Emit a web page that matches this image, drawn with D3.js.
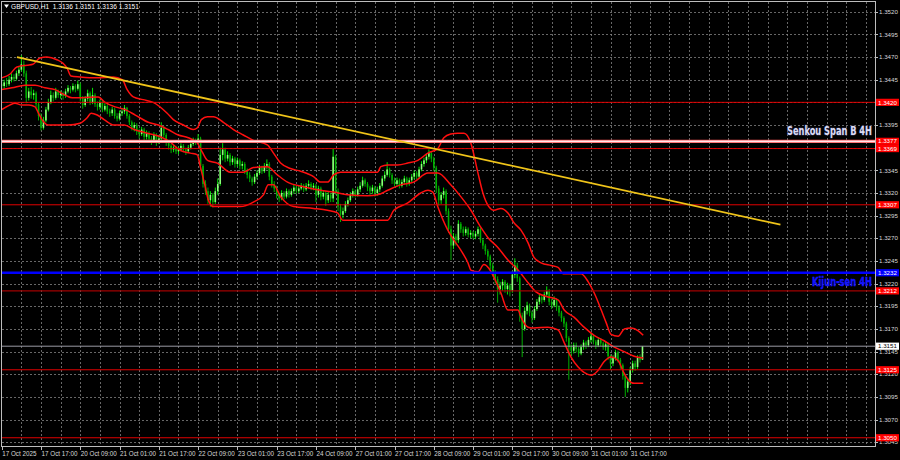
<!DOCTYPE html>
<html><head><meta charset="utf-8">
<script src="https://cdn.jsdelivr.net/npm/d3@7"></script>
<style>html,body{margin:0;padding:0;background:#000;}svg{display:block}</style>
</head><body>
<svg id="chart" width="900" height="460"></svg>
<script>
// ---------------- DATA ----------------
const symbolTitle = "GBPUSD,H1  1.3136 1.3151 1.3136 1.3151";
const firstOpen = 1.3440;
const closes = [
1.3438,1.3442,1.3440,1.3445,1.3448,1.3446,1.3452,1.3456,1.3462,1.3452,
1.3425,1.3432,1.3428,1.3430,1.3418,1.3405,1.3392,1.3400,1.3412,1.3420,
1.3428,1.3425,1.3432,1.3428,1.3430,1.3427,1.3432,1.3436,1.3434,1.3438,
1.3435,1.3440,1.3425,1.3417,1.3424,1.3430,1.3420,1.3428,1.3418,1.3415,
1.3420,1.3412,1.3416,1.3410,1.3408,1.3412,1.3405,1.3402,1.3408,1.3410,
1.3414,1.3405,1.3398,1.3392,1.3395,1.3388,1.3385,1.3390,1.3382,1.3386,
1.3380,1.3378,1.3384,1.3376,1.3380,1.3392,1.3384,1.3376,1.3372,1.3368,
1.3370,1.3366,1.3368,1.3372,1.3368,1.3366,1.3370,1.3374,1.3378,1.3376,
1.3380,1.3350,1.3330,1.3322,1.3312,1.3318,1.3310,1.3322,1.3330,1.3362,
1.3368,1.3358,1.3362,1.3354,1.3358,1.3352,1.3356,1.3350,1.3352,1.3344,
1.3340,1.3336,1.3332,1.3338,1.3342,1.3348,1.3344,1.3350,1.3352,1.3338,
1.3330,1.3325,1.3318,1.3314,1.3320,1.3316,1.3322,1.3318,1.3322,1.3326,
1.3322,1.3325,1.3328,1.3324,1.3328,1.3330,1.3326,1.3328,1.3318,1.3325,
1.3316,1.3320,1.3312,1.3318,1.3314,1.3360,1.3322,1.3305,1.3296,1.3300,
1.3308,1.3312,1.3318,1.3322,1.3318,1.3324,1.3328,1.3334,1.3330,1.3326,
1.3322,1.3326,1.3320,1.3324,1.3328,1.3336,1.3340,1.3346,1.3340,1.3334,
1.3330,1.3334,1.3328,1.3332,1.3336,1.3330,1.3334,1.3338,1.3342,1.3338,
1.3346,1.3352,1.3356,1.3360,1.3364,1.3358,1.3348,1.3325,1.3312,1.3318,
1.3322,1.3300,1.3280,1.3262,1.3272,1.3268,1.3286,1.3280,1.3276,1.3280,
1.3274,1.3276,1.3272,1.3275,1.3280,1.3268,1.3262,1.3256,1.3250,1.3240,
1.3232,1.3225,1.3214,1.3218,1.3222,1.3214,1.3218,1.3212,1.3230,1.3240,
1.3226,1.3185,1.3170,1.3190,1.3196,1.3188,1.3182,1.3192,1.3200,1.3205,
1.3202,1.3208,1.3212,1.3200,1.3196,1.3202,1.3194,1.3188,1.3182,1.3176,
1.3160,1.3150,1.3146,1.3152,1.3148,1.3143,1.3150,1.3155,1.3152,1.3158,
1.3162,1.3156,1.3152,1.3158,1.3154,1.3150,1.3153,1.3140,1.3132,1.3138,
1.3144,1.3136,1.3130,1.3118,1.3105,1.3112,1.3125,1.3132,1.3128,1.3138,
1.3136,1.3151];
const highs = [
1.3446,1.3445,1.3447,1.3449,1.3452,1.3451,1.3455,1.3460,1.3472,1.3466,
1.3455,1.3436,1.3437,1.3434,1.3432,1.3420,1.3408,1.3404,1.3415,1.3424,
1.3433,1.3431,1.3436,1.3434,1.3433,1.3432,1.3435,1.3439,1.3438,1.3441,
1.3440,1.3444,1.3442,1.3427,1.3427,1.3434,1.3432,1.3436,1.3430,1.3421,
1.3423,1.3422,1.3419,1.3418,1.3413,1.3415,1.3414,1.3408,1.3411,1.3413,
1.3417,1.3415,1.3407,1.3400,1.3398,1.3397,1.3391,1.3393,1.3392,1.3389,
1.3388,1.3383,1.3387,1.3386,1.3384,1.3398,1.3394,1.3386,1.3378,1.3374,
1.3373,1.3372,1.3371,1.3375,1.3374,1.3370,1.3373,1.3377,1.3381,1.3380,
1.3385,1.3382,1.3352,1.3334,1.3326,1.3322,1.3320,1.3326,1.3336,1.3370,
1.3375,1.3370,1.3366,1.3364,1.3361,1.3360,1.3359,1.3358,1.3355,1.3354,
1.3347,1.3343,1.3338,1.3341,1.3345,1.3351,1.3350,1.3353,1.3357,1.3354,
1.3340,1.3333,1.3328,1.3320,1.3323,1.3322,1.3325,1.3324,1.3325,1.3329,
1.3328,1.3328,1.3331,1.3330,1.3331,1.3334,1.3332,1.3331,1.3330,1.3328,
1.3327,1.3323,1.3322,1.3321,1.3320,1.3369,1.3362,1.3325,1.3308,1.3304,
1.3311,1.3315,1.3321,1.3325,1.3324,1.3327,1.3332,1.3338,1.3336,1.3332,
1.3328,1.3329,1.3328,1.3327,1.3331,1.3339,1.3344,1.3354,1.3348,1.3342,
1.3337,1.3337,1.3336,1.3335,1.3339,1.3338,1.3337,1.3341,1.3345,1.3344,
1.3349,1.3355,1.3359,1.3363,1.3368,1.3366,1.3360,1.3350,1.3328,1.3321,
1.3326,1.3324,1.3303,1.3284,1.3276,1.3275,1.3290,1.3288,1.3283,1.3283,
1.3282,1.3279,1.3278,1.3278,1.3283,1.3282,1.3270,1.3264,1.3258,1.3252,
1.3243,1.3235,1.3228,1.3222,1.3225,1.3224,1.3221,1.3220,1.3234,1.3248,
1.3243,1.3228,1.3188,1.3194,1.3200,1.3198,1.3190,1.3195,1.3203,1.3208,
1.3207,1.3211,1.3217,1.3214,1.3203,1.3206,1.3204,1.3196,1.3190,1.3184,
1.3178,1.3162,1.3153,1.3155,1.3155,1.3150,1.3153,1.3158,1.3157,1.3161,
1.3166,1.3164,1.3158,1.3161,1.3160,1.3156,1.3156,1.3155,1.3142,1.3141,
1.3147,1.3146,1.3138,1.3132,1.3120,1.3116,1.3128,1.3135,1.3135,1.3141,
1.3142,1.3151];
const lows = [
1.3434,1.3435,1.3437,1.3438,1.3442,1.3443,1.3444,1.3449,1.3454,1.3448,
1.3419,1.3422,1.3424,1.3423,1.3414,1.3400,1.3389,1.3390,1.3398,1.3410,
1.3418,1.3421,1.3423,1.3425,1.3424,1.3423,1.3425,1.3430,1.3430,1.3432,
1.3431,1.3433,1.3421,1.3413,1.3415,1.3421,1.3417,1.3418,1.3415,1.3411,
1.3412,1.3409,1.3410,1.3407,1.3404,1.3405,1.3402,1.3399,1.3400,1.3405,
1.3407,1.3402,1.3395,1.3389,1.3388,1.3384,1.3380,1.3383,1.3378,1.3379,
1.3376,1.3373,1.3376,1.3372,1.3374,1.3378,1.3381,1.3372,1.3368,1.3364,
1.3365,1.3363,1.3363,1.3366,1.3365,1.3362,1.3364,1.3368,1.3372,1.3373,
1.3374,1.3345,1.3326,1.3318,1.3308,1.3305,1.3304,1.3308,1.3318,1.3328,
1.3356,1.3354,1.3355,1.3350,1.3351,1.3348,1.3349,1.3346,1.3346,1.3341,
1.3336,1.3332,1.3328,1.3330,1.3335,1.3340,1.3341,1.3342,1.3346,1.3334,
1.3326,1.3321,1.3314,1.3310,1.3312,1.3313,1.3314,1.3315,1.3316,1.3319,
1.3319,1.3320,1.3323,1.3321,1.3322,1.3325,1.3323,1.3323,1.3310,1.3315,
1.3312,1.3313,1.3306,1.3309,1.3310,1.3310,1.3318,1.3300,1.3288,1.3292,
1.3298,1.3305,1.3310,1.3315,1.3315,1.3316,1.3321,1.3326,1.3327,1.3322,
1.3318,1.3319,1.3316,1.3317,1.3321,1.3326,1.3333,1.3338,1.3337,1.3330,
1.3327,1.3327,1.3325,1.3326,1.3329,1.3327,1.3328,1.3331,1.3335,1.3335,
1.3336,1.3344,1.3349,1.3353,1.3357,1.3354,1.3344,1.3320,1.3306,1.3308,
1.3314,1.3296,1.3276,1.3246,1.3258,1.3262,1.3265,1.3276,1.3272,1.3273,
1.3271,1.3270,1.3269,1.3269,1.3272,1.3265,1.3258,1.3252,1.3246,1.3236,
1.3228,1.3220,1.3199,1.3208,1.3212,1.3210,1.3208,1.3206,1.3210,1.3226,
1.3222,1.3178,1.3139,1.3168,1.3186,1.3184,1.3177,1.3180,1.3190,1.3197,
1.3198,1.3200,1.3205,1.3196,1.3192,1.3194,1.3190,1.3184,1.3178,1.3172,
1.3156,1.3114,1.3140,1.3143,1.3144,1.3139,1.3141,1.3147,1.3148,1.3150,
1.3155,1.3153,1.3148,1.3150,1.3151,1.3147,1.3146,1.3136,1.3125,1.3129,
1.3135,1.3133,1.3126,1.3114,1.3095,1.3100,1.3108,1.3122,1.3124,1.3126,
1.3133,1.3136];

// Bollinger-style envelope lines: [bar index, price]
const upperBand = [[0,1.3447],[3.3,1.3451],[6.2,1.3459],[10.3,1.3461],[12.7,1.3462],[15.6,1.3469],[18.4,1.3470],[22.5,1.3467],[25,1.3463],[26.6,1.3458],[28.2,1.3449],[31.9,1.3448],[38.9,1.3447],[45.4,1.3448],[49.1,1.3445],[51.1,1.3434],[53.6,1.3426],[57.6,1.3423],[61.7,1.3420],[67.4,1.3408],[69.9,1.3401],[74,1.3395],[78,1.3390],[79.7,1.3392],[81.3,1.3401],[83.8,1.3404],[86.2,1.3404],[90.3,1.3398],[94.4,1.3390],[98.4,1.3384],[102.5,1.3378],[108.2,1.3373],[110.7,1.3364],[113.6,1.3353],[117.6,1.3347],[121.7,1.3344],[127,1.3338],[129.9,1.3332],[132.7,1.3332],[135.2,1.3340],[138,1.3343],[146.2,1.3343],[153.1,1.3343],[154.4,1.3349],[157.2,1.3351],[161.3,1.3351],[165.4,1.3353],[169.5,1.3356],[173.6,1.3364],[177.6,1.3369],[180.1,1.3381],[182.9,1.3385],[185.8,1.3386],[188.3,1.3386],[191.1,1.3375],[194,1.3342],[196,1.3320],[198.4,1.3305],[200.5,1.3301],[203.3,1.3303],[206.2,1.3298],[208.7,1.3287],[211.5,1.3279],[214.4,1.3265],[216.8,1.3249],[219.7,1.3243],[223.8,1.3240],[226.6,1.3238],[228.7,1.3231],[231.9,1.3231],[236,1.3231],[238.9,1.3222],[241.3,1.3210],[244.2,1.3191],[246.2,1.3177],[248.2,1.3164],[251.1,1.3162],[253.6,1.3170],[256.4,1.3171],[259.3,1.3168],[261.3,1.3163]];
const middleBand = [[0,1.3434],[4.2,1.3436],[9.5,1.3439],[13.6,1.3439],[17.6,1.3436],[21.7,1.3434],[25.8,1.3428],[28.7,1.3425],[32.7,1.3425],[39.3,1.3426],[42.1,1.3420],[46.2,1.3415],[50.3,1.3412],[54.4,1.3406],[59.7,1.3398],[63.8,1.3395],[67.8,1.3390],[71.9,1.3384],[76,1.3381],[79.7,1.3375],[81.7,1.3365],[83.8,1.3356],[87.8,1.3353],[93.1,1.3343],[98.4,1.3343],[102.5,1.3348],[108.2,1.3349],[112.3,1.3340],[116.4,1.3332],[122.9,1.3327],[129.9,1.3323],[135.2,1.3321],[140.9,1.3318],[149,1.3317],[153.1,1.3318],[157.2,1.3323],[162.5,1.3329],[167.8,1.3332],[173.6,1.3342],[177.6,1.3342],[182.9,1.3329],[187,1.3316],[191.1,1.3301],[195.2,1.3282],[198,1.3271],[202.1,1.3260],[206.2,1.3246],[210.3,1.3235],[214.4,1.3221],[217.6,1.3211],[221.7,1.3206],[226.6,1.3202],[229.1,1.3191],[233.1,1.3183],[237.2,1.3172],[241.3,1.3163],[245.4,1.3157],[249.5,1.3150],[253.6,1.3145],[257.6,1.3140],[261.3,1.3138]];
const lowerBand = [[0,1.3412],[3.3,1.3417],[5.4,1.3419],[8.2,1.3417],[11.1,1.3417],[13.6,1.3415],[14.8,1.3409],[16.4,1.3401],[18.9,1.3395],[24.6,1.3395],[27,1.3395],[31.9,1.3397],[34.8,1.3403],[36.4,1.3408],[38.9,1.3406],[41.7,1.3401],[45.8,1.3395],[49.9,1.3395],[54,1.3390],[59.3,1.3386],[64.6,1.3382],[68.7,1.3376],[72.7,1.3367],[76.8,1.3364],[79.7,1.3362],[80.9,1.3349],[82.9,1.3327],[84.2,1.3312],[86.2,1.3305],[97.2,1.3305],[102.5,1.3310],[106.6,1.3318],[108.6,1.3329],[110.7,1.3329],[113.6,1.3316],[118.9,1.3305],[127,1.3303],[132.7,1.3301],[136.8,1.3298],[138.9,1.3290],[157.2,1.3290],[159.7,1.3301],[165.4,1.3309],[170.7,1.3320],[173.6,1.3323],[175.6,1.3321],[177.6,1.3305],[181.7,1.3279],[184.2,1.3268],[187,1.3257],[189.9,1.3243],[191.1,1.3235],[194,1.3233],[196.4,1.3241],[198.4,1.3237],[200.5,1.3227],[203.3,1.3210],[206.2,1.3191],[210.3,1.3191],[211.5,1.3183],[214.4,1.3172],[216.8,1.3171],[222.5,1.3172],[226.6,1.3169],[229.1,1.3155],[231.9,1.3139],[234.8,1.3128],[237.2,1.3122],[240.1,1.3119],[242.8,1.3124],[245.4,1.3134],[248.2,1.3139],[251.1,1.3135],[253.2,1.3123],[255.2,1.3114],[257.6,1.3110],[261.3,1.3110]];

const trendLine = [[6.2, 1.3470], [317.2, 1.3285]];
const redLevels = [1.3420, 1.3369, 1.3307, 1.3125, 1.3050];
const darkRedLevels = [1.3212];
const senkouLevel = 1.3377;
const kijunLevel = 1.3232;
const lastPrice = 1.3151;
const senkouText = "Senkou Span B 4H";
const kijunText = "Kijun-sen 4H";

const priceTicks = [1.3520,1.3495,1.3470,1.3445,1.3420,1.3395,1.3370,1.3345,1.3320,1.3295,1.3270,1.3245,1.3220,1.3195,1.3170,1.3145,1.3120,1.3095,1.3070,1.3045];
const timeLabelBars = [0,16,32,48,64,80,96,112,128,144,160,176,192,208,224,240,256];
const timeLabels = ["17 Oct 2025","17 Oct 17:00","20 Oct 09:00","21 Oct 01:00","21 Oct 17:00","22 Oct 09:00","23 Oct 01:00","23 Oct 17:00","24 Oct 09:00","27 Oct 01:00","27 Oct 17:00","28 Oct 09:00","29 Oct 01:00","29 Oct 17:00","30 Oct 09:00","31 Oct 01:00","31 Oct 17:00"];

// ---------------- LAYOUT ----------------
const W = 900, H = 460;
const plot = {left: 2, top: 2, right: 875.5, bottom: 446.5};
const barStep = 2.455;
const x = d3.scaleLinear().domain([0, 356]).range([1.72, 1.72 + 356 * barStep]);
const y = d3.scaleLinear().domain([1.30398, 1.35307]).range([447, 2]);

const svg = d3.select("#chart");
svg.append("rect").attr("width", W).attr("height", H).attr("fill", "#000");

svg.append("defs").append("clipPath").attr("id", "clip")
  .append("rect").attr("x", plot.left).attr("y", plot.top)
  .attr("width", plot.right - plot.left).attr("height", plot.bottom - plot.top);

const grid = svg.append("g").attr("clip-path", "url(#clip)");
grid.selectAll("line.h").data(priceTicks).join("line")
  .attr("x1", plot.left).attr("x2", plot.right)
  .attr("y1", d => Math.round(y(d)) + 0.5).attr("y2", d => Math.round(y(d)) + 0.5)
  .attr("stroke", "#8a8a8a").attr("stroke-width", 1).attr("stroke-dasharray", "2,2").attr("opacity", 0.75);
const vBars = d3.range(8, 357, 8);
grid.selectAll("line.v").data(vBars).join("line")
  .attr("x1", d => Math.round(x(d)) + 0.5).attr("x2", d => Math.round(x(d)) + 0.5)
  .attr("y1", plot.top).attr("y2", plot.bottom)
  .attr("stroke", "#8a8a8a").attr("stroke-width", 1).attr("stroke-dasharray", "2,2").attr("opacity", 0.75);

// candles
const bars = closes.map((c, i) => {
  const o = i === 0 ? firstOpen : closes[i - 1];
  return {i, o, c, h: Math.max(highs[i], o, c), l: Math.min(lows[i], o, c)};
});
const cg = svg.append("g").attr("clip-path", "url(#clip)");
cg.selectAll("line.w").data(bars).join("line")
  .attr("x1", d => x(d.i)).attr("x2", d => x(d.i))
  .attr("y1", d => y(d.h)).attr("y2", d => y(d.l))
  .attr("stroke", d => d.c >= d.o ? "#00ff00" : "#00c000").attr("stroke-width", 0.9);
cg.selectAll("rect.b").data(bars).join("rect")
  .attr("x", d => x(d.i) - 0.8).attr("width", 1.6)
  .attr("y", d => y(Math.max(d.o, d.c)))
  .attr("height", d => Math.max(0.8, Math.abs(y(d.o) - y(d.c))))
  .attr("fill", d => d.c >= d.o ? "#8cff7a" : "#00b000");

// bands
const bandLine = d3.line().x(d => x(d[0])).y(d => y(d[1])).curve(d3.curveMonotoneX);
const bg = svg.append("g").attr("clip-path", "url(#clip)");
[upperBand, middleBand, lowerBand].forEach(b => {
  bg.append("path").attr("d", bandLine(b)).attr("fill", "none")
    .attr("stroke", "#ff0f0f").attr("stroke-width", 1.5);
});

// levels
const lg = svg.append("g").attr("clip-path", "url(#clip)");
const hline = (v, color, w) => lg.append("line")
  .attr("x1", plot.left).attr("x2", plot.right)
  .attr("y1", y(v)).attr("y2", y(v)).attr("stroke", color).attr("stroke-width", w);
redLevels.forEach(v => hline(v, "#e00000", 1));
darkRedLevels.forEach(v => hline(v, "#a00000", 1.3));
hline(lastPrice, "#9a9aa4", 1);
hline(senkouLevel, "#ff5050", 3.2);
hline(senkouLevel, "#ffe6ea", 1.6);
hline(kijunLevel, "#0000ff", 2.6);

// trend line
lg.append("line")
  .attr("x1", x(trendLine[0][0])).attr("y1", y(trendLine[0][1]))
  .attr("x2", x(trendLine[1][0])).attr("y2", y(trendLine[1][1]))
  .attr("stroke", "#f0c419").attr("stroke-width", 1.8);

// line labels
const labelFont = "'Liberation Sans Narrow', 'DejaVu Sans Condensed', sans-serif";
svg.append("text").text(senkouText)
  .attr("x", 872).attr("y", 134.5).attr("text-anchor", "end")
  .attr("font-family", labelFont)
  .attr("font-weight", "bold").attr("font-size", 12)
  .attr("textLength", 85).attr("lengthAdjust", "spacingAndGlyphs")
  .attr("fill", "#dcdcf6").attr("stroke", "#303050").attr("stroke-width", 1.1)
  .attr("paint-order", "stroke");
svg.append("text").text(kijunText)
  .attr("x", 872).attr("y", 285.5).attr("text-anchor", "end")
  .attr("font-family", labelFont)
  .attr("font-weight", "bold").attr("font-size", 12.5)
  .attr("textLength", 60).attr("lengthAdjust", "spacingAndGlyphs")
  .attr("fill", "#1414ff").attr("stroke", "#1414ff").attr("stroke-width", 0.4);

// frame
svg.append("rect").attr("x", 1.5).attr("y", 1.5).attr("width", plot.right - 1.5).attr("height", plot.bottom - 1.5)
  .attr("fill", "none").attr("stroke", "#bdbdbd").attr("stroke-width", 1);

// level boxes (drawn over the price scale, hiding the ticks they cover)
const boxes = [];
redLevels.forEach(v => boxes.push({v, fill: "#ff0000", text: "#ffffff"}));
darkRedLevels.forEach(v => boxes.push({v, fill: "#ff0000", text: "#ffffff"}));
boxes.push({v: senkouLevel, fill: "#ff0000", text: "#ffffff"});
boxes.push({v: kijunLevel, fill: "#0000ff", text: "#ffffff"});
boxes.push({v: lastPrice, fill: "#ffffff", text: "#000000"});

const axisFont = "'Liberation Sans', Arial, sans-serif";
const visibleTicks = priceTicks.filter(t => boxes.every(b => Math.abs(y(b.v) - y(t)) > 4));
svg.append("g").selectAll("text").data(visibleTicks).join("text")
  .attr("x", 879).attr("y", d => y(d)).attr("dy", "0.35em")
  .attr("font-family", axisFont).attr("font-size", 6.2).attr("fill", "#d8d8d8")
  .text(d => d.toFixed(4));
svg.append("g").selectAll("line").data(priceTicks).join("line")
  .attr("x1", 875.5).attr("x2", 878).attr("y1", d => Math.round(y(d)) + 0.5).attr("y2", d => Math.round(y(d)) + 0.5)
  .attr("stroke", "#bdbdbd");

const bxg = svg.append("g");
boxes.forEach(b => {
  bxg.append("rect").attr("x", 876).attr("y", y(b.v) - 3.6).attr("width", 23).attr("height", 7.2).attr("fill", b.fill);
  bxg.append("text").attr("x", 878).attr("y", y(b.v)).attr("dy", "0.35em")
    .attr("font-family", axisFont).attr("font-size", 6.2).attr("fill", b.text).text(b.v.toFixed(4));
});

// time axis
svg.append("g").selectAll("line").data(timeLabelBars).join("line")
  .attr("x1", d => Math.round(x(d)) + 0.5).attr("x2", d => Math.round(x(d)) + 0.5)
  .attr("y1", 446.5).attr("y2", 450).attr("stroke", "#bdbdbd");
svg.append("g").selectAll("text").data(timeLabels).join("text")
  .attr("x", (d, k) => x(timeLabelBars[k]) + 0.5).attr("y", 455.5)
  .attr("font-family", axisFont).attr("font-size", 6.3).attr("fill", "#d8d8d8")
  .text(d => d);

// title
svg.append("path").attr("d", "M4,4.5 L9,4.5 L6.5,8 Z").attr("fill", "#ffffff");
svg.append("text").attr("x", 11).attr("y", 8.5)
  .attr("font-family", axisFont).attr("font-size", 6.6).attr("fill", "#ffffff")
  .attr("xml:space", "preserve").text(symbolTitle);
</script>
</body></html>
